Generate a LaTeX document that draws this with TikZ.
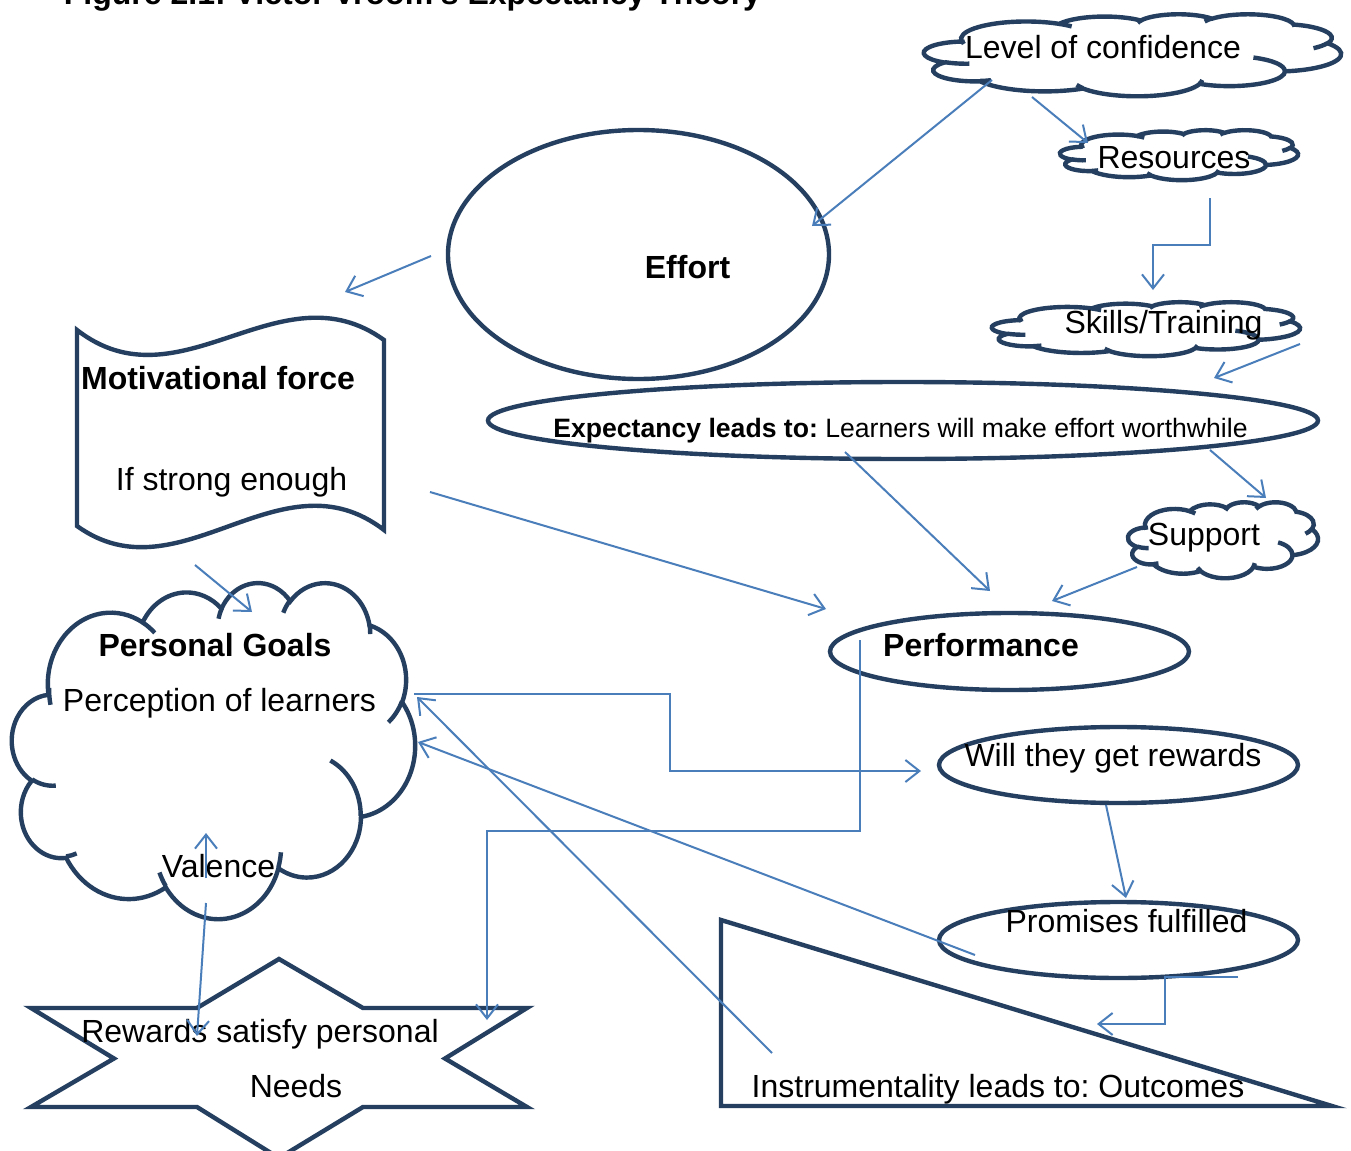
\documentclass[tikz,border=0pt]{standalone}
\usepackage{fontspec}
\setmainfont{Liberation Sans}
\usetikzlibrary{shapes.geometric,arrows.meta}
\definecolor{shapeline}{HTML}{243F60}
\definecolor{connblue}{HTML}{4A7EBB}
\frenchspacing
% Word-style cloud: #1 name, #2 left, #3 top, #4 width, #5 height (pixels)
\newcommand{\wcloud}[5]{%
  \pgfmathsetmacro\wcx{#4*0.5/43.2}%
  \pgfmathsetmacro\wcy{#5*0.5/43.2}%
  \begin{scope}[shift={(#2,#3)}, x=\wcx pt, y=-\wcy pt]
    \draw[shp] (3.9,14.37)
      arc[start angle=-187.75, end angle=-59.63, x radius=6.753, y radius=9.19]
      arc[start angle=-152.05, end angle=-45.43, x radius=5.333, y radius=7.267]
      arc[start angle=-153.49, end angle=-37.33, x radius=4.365, y radius=5.945]
      arc[start angle=-139.72, end angle=-10.21, x radius=4.857, y radius=6.595]
      arc[start angle=-74.77, end angle=23.21, x radius=5.333, y radius=7.273]
      arc[start angle=-37.52, end angle=81.86, x radius=6.775, y radius=9.22]
      arc[start angle=0.46, end angle=121.97, x radius=5.785, y radius=7.867]
      arc[start angle=16.84, end angle=146.22, x radius=6.752, y radius=9.215]
      arc[start angle=58.99, end angle=150.19, x radius=7.72, y radius=10.543]
      arc[start angle=-276.69, end angle=-136.92, x radius=4.36, y radius=5.918]
      arc[start angle=-239.65, end angle=-95.89, x radius=4.345, y radius=5.945]
      -- cycle;
    \draw[shp]
      (4.693,26.177) arc[start angle=85.55, end angle=120.35, x radius=4.345, y radius=5.945]
      (6.928,34.899) arc[start angle=68.24, end angle=83.31, x radius=4.36, y radius=5.918]
      (16.478,39.09) arc[start angle=146.22, end angle=158.47, x radius=6.752, y radius=9.215]
      (28.827,34.751) arc[start angle=4.74, end angle=16.84, x radius=6.752, y radius=9.215]
      (34.129,22.954) arc[start angle=-64.03, end angle=0.46, x radius=5.785, y radius=7.867]
      (41.798,15.354) arc[start angle=23.21, end angle=49.64, x radius=5.333, y radius=7.273]
      (38.324,5.426) arc[start angle=-10.21, end angle=0.82, x radius=4.857, y radius=6.595]
      (29.078,3.952) arc[start angle=-156.29, end angle=-139.72, x radius=4.857, y radius=6.595]
      (22.141,4.72) arc[start angle=-167.73, end angle=-153.49, x radius=4.365, y radius=5.945]
      (14,5.192) arc[start angle=-59.63, end angle=-45.72, x radius=6.753, y radius=9.19]
      (4.127,15.789) arc[start angle=167.90, end angle=181.61, x radius=6.753, y radius=9.19];
    \coordinate (#1) at (21.6,21.6);
  \end{scope}}
\begin{document}
\begin{tikzpicture}[x=0.5pt,y=-0.5pt,
  shp/.style={draw=shapeline, line width=2.2pt},
  conn/.style={draw=connblue, line width=1pt, -{Straight Barb[length=7pt,width=11pt,line width=1pt]}},
  txt/.style={inner sep=0pt, anchor=base, font=\fontsize{16}{19}\selectfont},
  btxt/.style={inner sep=0pt, anchor=base, font=\fontsize{16}{19}\selectfont\bfseries},
  ell/.style={shp, ellipse, inner sep=0pt},
]
\useasboundingbox (0,0) rectangle (1351,1151);
\fill[white] (0,0) rectangle (1351,1151);
\clip (0,0) rectangle (1351,1151);

% title (cut off at the top)
\node[btxt] (title) at (412.5,4) {Figure 2.1: Victor Vroom’s Expectancy Theory};

% clouds
\wcloud{conf}{924}{14}{417}{82}
\wcloud{res}{1060}{130}{238}{50}
\wcloud{skills}{992}{302}{308}{54}
\wcloud{supp}{1128}{502}{190}{76}
\wcloud{goals}{12}{582}{403}{336}

% ellipses
\node[ell, minimum width=190.5pt, minimum height=124.5pt] (effort) at (638.5,254.5) {};
\node[ell, minimum width=415pt, minimum height=38.5pt] (expect) at (903,420.5) {};
\node[ell, minimum width=179.5pt, minimum height=38.5pt] (perf) at (1009.5,651.5) {};
\node[ell, minimum width=179.5pt, minimum height=38pt] (will) at (1118.5,765) {};
\node[ell, minimum width=179.5pt, minimum height=38pt] (prom) at (1118.5,940) {};

% wave (motivational force)
\draw[shp] (77,330) .. controls (180,410) and (280,265) .. (384,340) -- (384,530)
  .. controls (280,450) and (180,600) .. (77,526) -- cycle;
\coordinate (wave) at (230,430);

% triangle
\draw[shp, line join=miter] (721,920) -- (1332,1106) -- (721,1106) -- cycle;
\coordinate (tri) at (900,1050);

% star
\draw[shp, line join=miter] (279,959) -- (363,1008) -- (527,1008) -- (445,1058.5) -- (527,1107)
  -- (363,1107) -- (279,1158) -- (197,1107) -- (31,1107) -- (114,1058.5) -- (31,1008)
  -- (197,1008) -- cycle;
\coordinate (star) at (279,1058);

% texts
\node[txt] (tconf) at (1103,58) {Level of confidence};
\node[txt] (tres) at (1174,168) {Resources};
\node[txt] (tskills) at (1163.5,333) {Skills/Training};
\node[txt] (tsupp) at (1204,545) {Support};
\node[btxt] (teffort) at (687.5,278) {Effort};
\node[inner sep=0pt, anchor=base, font=\fontsize{13.3}{16}\selectfont] (texpect) at (900.5,437)
  {\textbf{Expectancy leads to:} Learners will make effort worthwhile};
\node[btxt] (tmot) at (218,389) {Motivational force};
\node[txt] (tstrong) at (231.5,490) {If strong enough};
\node[btxt] (tgoals) at (215,656) {Personal Goals};
\node[txt] (tperc) at (219.5,711) {Perception of learners};
\node[txt] (tval) at (218.5,877) {Valence};
\node[btxt] (tperf) at (981,656) {Performance};
\node[txt] (twill) at (1113,766) {Will they get rewards};
\node[txt] (tprom) at (1126.5,932) {Promises fulfilled};
\node[txt] (tinst) at (998,1097) {Instrumentality leads to: Outcomes};
\node[txt] (trew) at (260,1042) {Rewards satisfy personal};
\node[txt] (tneeds) at (296,1097) {Needs};

% connector end points
\coordinate (a1) at (992,80);   \coordinate (a2) at (812,226);
\coordinate (b1) at (1032,97);  \coordinate (b2) at (1088,143);
\coordinate (c1) at (1210,198); \coordinate (c2) at (1153,290);
\coordinate (d1) at (1300,344); \coordinate (d2) at (1214,378);
\coordinate (e1) at (1210,450); \coordinate (e2) at (1266,498);
\coordinate (f1) at (845,452);  \coordinate (f2) at (990,591);
\coordinate (g1) at (1137,567); \coordinate (g2) at (1052,601);
\coordinate (h1) at (431,256);  \coordinate (h2) at (345,292);
\coordinate (i1) at (430,492);  \coordinate (i2) at (826,609);
\coordinate (j1) at (195,565);  \coordinate (j2) at (252,612);
\coordinate (k1) at (414,694);  \coordinate (k2) at (921,771);
\coordinate (l1) at (772,1053); \coordinate (l2) at (417,697);
\coordinate (m1) at (975,955);  \coordinate (m2) at (418,742);
\coordinate (n1) at (860,640);  \coordinate (n2) at (487,1020);
\coordinate (o1) at (1106,805); \coordinate (o2) at (1126,898);
\coordinate (p1) at (1238,977); \coordinate (p2) at (1097,1024);
\coordinate (q1) at (206,878);  \coordinate (q2) at (206,833);
\coordinate (r1) at (206,903);  \coordinate (r2) at (197,1036);

% connectors
\draw[conn] (a1) -- (a2);
\draw[conn] (b1) -- (b2);
\draw[conn] (c1) -- (1210,245) -- (1153,245) -- (c2);
\draw[conn] (d1) -- (d2);
\draw[conn] (e1) -- (e2);
\draw[conn] (f1) -- (f2);
\draw[conn] (g1) -- (g2);
\draw[conn] (h1) -- (h2);
\draw[conn] (i1) -- (i2);
\draw[conn] (j1) -- (j2);
\draw[conn] (k1) -- (670,694) -- (670,771) -- (k2);
\draw[conn] (l1) -- (l2);
\draw[conn] (m1) -- (m2);
\draw[conn] (n1) -- (860,831) -- (487,831) -- (n2);
\draw[conn] (o1) -- (o2);
\draw[conn] (p1) -- (1165,977) -- (1165,1024) -- (p2);
\draw[conn] (q1) -- (q2);
\draw[conn] (r1) -- (r2);
\end{tikzpicture}
\end{document}
